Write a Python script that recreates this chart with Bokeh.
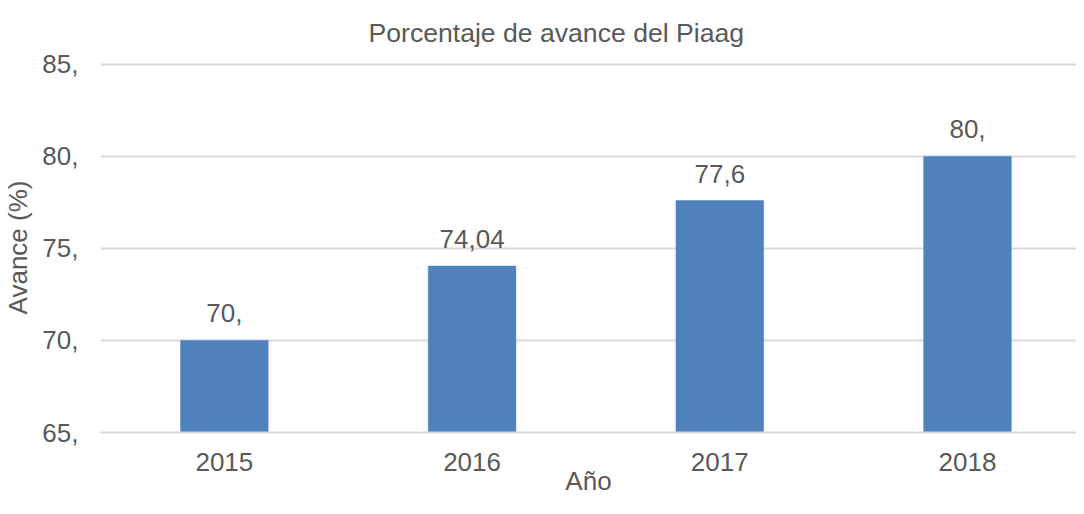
from bokeh.plotting import figure
from bokeh.models import ColumnDataSource, Range1d, FixedTicker, Title
from bokeh.embed import file_html
from bokeh.resources import INLINE
from bokeh.core.properties import value

years = ["2015", "2016", "2017", "2018"]
avance = [70.0, 74.04, 77.6, 80.0]
bar_labels = ["70,", "74,04", "77,6", "80,"]
y_ticks = [65, 70, 75, 80, 85]
y_tick_labels = ["65,", "70,", "75,", "80,", "85,"]

FONT = "Liberation Sans"
GRAY = "#595959"
FS = "26px"

xpos = [i + 0.5 for i in range(len(years))]
src = ColumnDataSource(dict(x=xpos, top=avance, lab=bar_labels))

p = figure(width=1076, height=498, output_backend="svg", toolbar_location=None,
           x_range=Range1d(0, 3.94), y_range=Range1d(65, 85.1),
           min_border_left=97, min_border_right=0, min_border_top=61, min_border_bottom=62)
p.outline_line_color = None
p.background_fill_color = "white"
p.border_fill_color = "white"

t = Title(text="Porcentaje de avance del Piaag", align="left", offset=268,
          text_font=FONT, text_font_size="26.6px", text_color=GRAY,
          text_font_style="normal", standoff=30)
p.add_layout(t, "above")

p.vbar(x="x", top="top", bottom=65, width=88 / 248.7, source=src,
       fill_color="#4F81BD", line_color="#4F81BD", line_width=0.5)

p.text(x="x", y="top", text="lab", source=src, text_align="center",
       text_baseline="alphabetic", y_offset=-27,
       text_font=value(FONT), text_font_size=FS, text_color=GRAY)

# y axis
p.yaxis.ticker = FixedTicker(ticks=y_ticks)
p.yaxis.major_label_overrides = {v: s for v, s in zip(y_ticks, y_tick_labels)}
p.yaxis.axis_label = "Avance (%)"
p.yaxis.axis_line_color = None
p.yaxis.major_tick_line_color = None
p.yaxis.minor_tick_line_color = None
p.yaxis.major_tick_out = 0
p.yaxis.major_tick_in = 0
p.yaxis.minor_tick_out = 0
p.yaxis.major_label_standoff = 22
p.yaxis.axis_label_standoff = 6

# x axis
p.xaxis.ticker = FixedTicker(ticks=xpos)
p.xaxis.major_label_overrides = {v: s for v, s in zip(xpos, years)}
p.xaxis.axis_label = "Año"
p.xaxis.axis_line_color = "#D9D9D9"
p.xaxis.axis_line_width = 2
p.xaxis.major_tick_line_color = None
p.xaxis.minor_tick_line_color = None
p.xaxis.major_tick_out = 0
p.xaxis.major_tick_in = 0
p.xaxis.minor_tick_out = 0
p.xaxis.major_label_standoff = 20
p.xaxis.axis_label_standoff = -8

for ax in (p.xaxis, p.yaxis):
    ax.major_label_text_font = FONT
    ax.major_label_text_font_size = FS
    ax.major_label_text_color = GRAY
    ax.axis_label_text_font = FONT
    ax.axis_label_text_font_size = FS
    ax.axis_label_text_color = GRAY
    ax.axis_label_text_font_style = "normal"

p.xgrid.grid_line_color = None
p.ygrid.ticker = FixedTicker(ticks=y_ticks)
p.ygrid.grid_line_color = "#D9D9D9"
p.ygrid.grid_line_width = 2

open("out.html", "w").write(file_html(p, INLINE))
